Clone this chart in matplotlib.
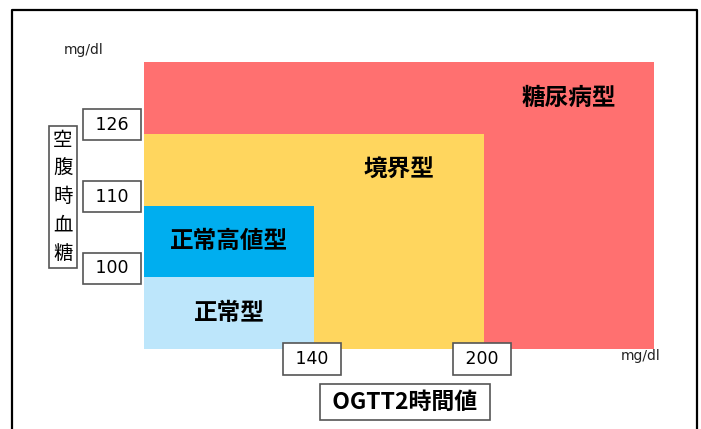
import matplotlib
matplotlib.use("Agg")
import matplotlib.pyplot as plt
from matplotlib.lines import Line2D

plt.rcParams['font.family'] = ['Noto Sans CJK JP', 'DejaVu Sans']

# ---- data ----
categories = ['糖尿病型', '境界型', '正常高値型', '正常型']
colors = ['#FF7070', '#FFD65E', '#00AEEF', '#BDE6FB']
# extent of each region counted in threshold steps (x: OGTT 2h, y: fasting glucose)
x_steps = [3, 2, 1, 1]
y_steps = [4, 3, 2, 1]
ogtt_ticks = [140, 200]          # mg/dl, OGTT 2-hour value
fpg_ticks = [100, 110, 126]      # mg/dl, fasting plasma glucose
x_label = 'OGTT2時間値'
y_label = '空腹時血糖'
unit = 'mg/dl'

W, H = 701, 429
PX = 72 / 100  # points per pixel
fig = plt.figure(figsize=(W / 100, H / 100), dpi=100)
ax = fig.add_axes([144 / W, (H - 349) / H, 510 / W, 287 / H])
ax.set_xlim(0, max(x_steps))
ax.set_ylim(0, max(y_steps))
ax.axis('off')

for cat, col, xs, ys in zip(categories, colors, x_steps, y_steps):
    ax.bar(0, ys, width=xs, bottom=0, align='edge', color=col, edgecolor='none', zorder=1)
    ax.text(xs - 0.5, ys - 0.5, cat, ha='center', va='center', fontsize=17,
            fontweight='bold', color='black', zorder=3)

box = dict(boxstyle='square,pad=0.38', facecolor='white', edgecolor='#555555', linewidth=1.2)

# y threshold boxes (just above each boundary)
for i, v in enumerate(fpg_ticks, start=1):
    ax.annotate(f' {v} ', xy=(0, i), xytext=(-32 * PX, 9 * PX), textcoords='offset points',
                xycoords='data', ha='center', va='center', fontsize=12.5,
                family='DejaVu Sans', bbox=box, zorder=4, annotation_clip=False)

# x threshold boxes (centered below each boundary)
for i, v in enumerate(ogtt_ticks, start=1):
    ax.annotate(f' {v} ', xy=(i, 0), xytext=(-2 * PX, -10 * PX), textcoords='offset points',
                xycoords='data', ha='center', va='center', fontsize=12.5,
                family='DejaVu Sans', bbox=box, zorder=4, annotation_clip=False)

# axis titles
fig.text(405 / W, 1 - 402 / H, ' ' + x_label + ' ', ha='center', va='center', fontsize=16.5,
         fontweight='bold', bbox=dict(boxstyle='square,pad=0.3', facecolor='white',
                                      edgecolor='#555555', linewidth=1.2))
fig.text(63 / W, 1 - 197 / H, '\n'.join(y_label), ha='center', va='center', fontsize=14,
         linespacing=1.45, bbox=dict(boxstyle='square,pad=0.22', facecolor='white',
                                     edgecolor='#555555', linewidth=1.2))

# units
fig.text(84 / W, 1 - 50 / H, unit, ha='center', va='center', fontsize=10,
         family='DejaVu Sans', color='#222222')
fig.text(641 / W, 1 - 356 / H, unit, ha='center', va='center', fontsize=10,
         family='DejaVu Sans', color='#222222')

# outer frame (open at bottom)
fig.add_artist(Line2D([12 / W, 12 / W, 697 / W, 697 / W], [0, 1 - 10 / H, 1 - 10 / H, 0],
                      transform=fig.transFigure, color='black', linewidth=1.6))

fig.savefig('out.png', dpi=100)
